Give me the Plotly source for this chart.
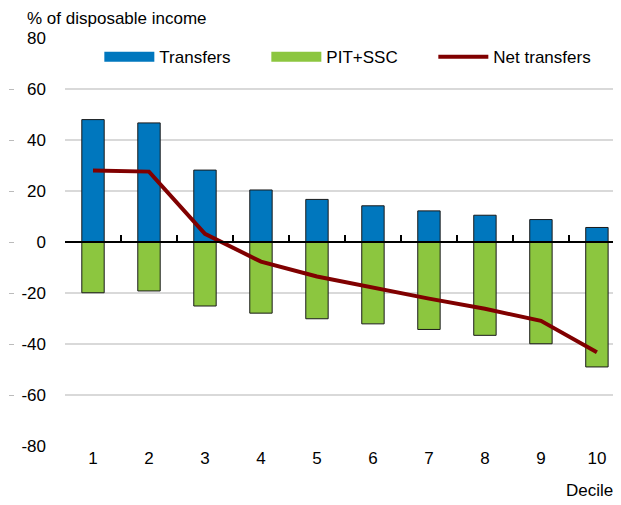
import plotly.graph_objects as go

deciles = [1, 2, 3, 4, 5, 6, 7, 8, 9, 10]
tick_labels = ["1", "2", "3", "4", "5", "6", "7", "8", "9", "10"]
transfers = [48.0, 46.7, 28.2, 20.4, 16.7, 14.2, 12.2, 10.5, 8.8, 5.7]
pit_ssc = [-19.9, -19.2, -25.1, -27.9, -30.1, -32.1, -34.3, -36.6, -39.9, -49.0]
net_transfers = [28.0, 27.6, 3.2, -7.7, -13.5, -18.0, -22.2, -26.2, -30.9, -43.2]
y_ticks = [-80, -60, -40, -20, 0, 20, 40, 60, 80]
y_tick_text = ["-80", "-60", "-40", "-20", "0", "20", "40", "60", "80"]

FONT = "Liberation Sans"
BLUE = "#0077BE"
GREEN = "#8CC63F"
RED = "#800000"

fig = go.Figure()
fig.add_trace(go.Bar(x=deciles, y=transfers, name="Transfers", width=0.4, showlegend=False,
                     marker=dict(color=BLUE, line=dict(color="#1a1a1a", width=1))))
fig.add_trace(go.Bar(x=deciles, y=pit_ssc, name="PIT+SSC", width=0.4, showlegend=False,
                     marker=dict(color=GREEN, line=dict(color="#1a1a1a", width=1))))
fig.add_trace(go.Scatter(x=deciles, y=net_transfers, name="Net transfers", mode="lines",
                         showlegend=False, line=dict(color=RED, width=4)))
# legend keys (wide rectangles like the original)
fig.add_trace(go.Scatter(x=[None], y=[None], name="Transfers", mode="lines",
                         line=dict(color=BLUE, width=12)))
fig.add_trace(go.Scatter(x=[None], y=[None], name="PIT+SSC", mode="lines",
                         line=dict(color=GREEN, width=12)))
fig.add_trace(go.Scatter(x=[None], y=[None], name="Net transfers", mode="lines",
                         line=dict(color=RED, width=4)))

# page body has an 8px margin, so the figure is made 8px smaller and offset
fig.update_layout(
    width=613, height=497,
    margin=dict(l=0, r=0, t=30, b=59, autoexpand=False),
    barmode="relative",
    plot_bgcolor="white", paper_bgcolor="white",
    font=dict(family=FONT, size=17, color="#000"),
    showlegend=True,
    legend=dict(orientation="h", x=0.149, y=0.953, xanchor="left", yanchor="middle",
                bgcolor="rgba(0,0,0,0)", font=dict(size=17), itemwidth=50,
                traceorder="normal", entrywidth=102),
    xaxis=dict(domain=[57 / 613, 1], range=[0.5, 10.43], tickvals=deciles,
               ticktext=tick_labels, showgrid=False, zeroline=False, showline=False,
               ticks="", tickfont=dict(size=17), automargin=False),
    xaxis2=dict(domain=[57 / 613, 1], overlaying="x", matches="x", anchor="free",
                position=0.5, showline=True, linecolor="black", linewidth=2,
                ticks="inside", ticklen=6, tickwidth=2, tickcolor="black",
                tickvals=[0.5 + i for i in range(10)], showticklabels=False,
                showgrid=False, zeroline=False, automargin=False),
    yaxis=dict(range=[-80, 80], tickvals=y_ticks, ticktext=y_tick_text, showgrid=True,
               gridcolor="#d9d9d9", gridwidth=1.5, zeroline=False, showline=False,
               ticks="", ticklabelstandoff=18, tickfont=dict(size=17), automargin=False),
    yaxis2=dict(overlaying="y", matches="y", anchor="free", position=0, side="left",
                tickvals=y_ticks, showticklabels=False, ticks="inside", ticklen=5,
                tickwidth=1, tickcolor="#bbbbbb", showgrid=False, zeroline=False,
                showline=False, automargin=False),
    annotations=[
        dict(text="% of disposable income", xref="paper", yref="paper",
             x=0.028, y=1.049, xanchor="left", yanchor="middle", showarrow=False,
             font=dict(size=17)),
        dict(text="Decile", xref="paper", yref="paper", x=0.99, y=-0.108,
             xanchor="right", yanchor="middle", showarrow=False, font=dict(size=17)),
    ],
)
# invisible traces to activate the overlay axes
fig.add_trace(go.Scatter(x=[deciles[0]], y=[0], xaxis="x2", mode="markers",
                         marker=dict(opacity=0), showlegend=False, hoverinfo="skip"))
fig.add_trace(go.Scatter(x=[deciles[0]], y=[0], yaxis="y2", mode="markers",
                         marker=dict(opacity=0), showlegend=False, hoverinfo="skip"))

fig.write_html("out.html")
